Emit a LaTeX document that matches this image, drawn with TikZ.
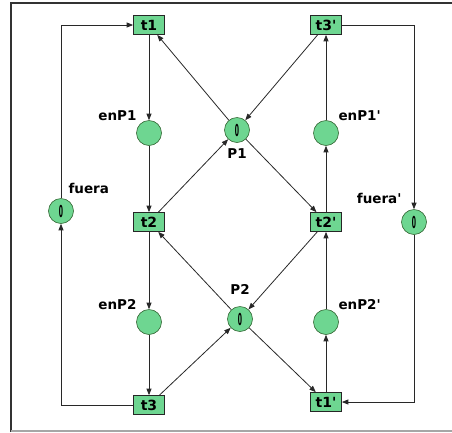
\documentclass[tikz,border=0pt]{standalone}
\usepackage{fontspec}
\setmainfont{DejaVu Sans}
\usetikzlibrary{arrows.meta,positioning}
\definecolor{placefill}{RGB}{110,214,145}
\definecolor{edge}{RGB}{40,40,40}
\newcommand{\tokzero}{\scalebox{0.55}[1.5]{\bfseries 0}}
\newcommand{\pr}{\textquotesingle}
\tikzset{
  place/.style={circle, draw=green!25!black!80, fill=placefill,
                minimum size=25pt, inner sep=0pt, line width=0.6pt,
                font=\fontsize{11}{13}\selectfont},
  trans/.style={rectangle, draw=black!85, fill=placefill,
                minimum width=31pt, minimum height=19pt, inner sep=1pt,
                line width=0.7pt, font=\bfseries\fontsize{14}{16}\selectfont},
  lbl/.style={font=\bfseries\fontsize{13.5}{15}\selectfont},
  arc/.style={-{Triangle[length=6.5pt,width=5pt]}, line width=0.8pt, color=edge},
}

\begin{document}
\begin{tikzpicture}[x=1pt, y=1pt, on grid]
    \useasboundingbox (0,0) rectangle (452,-432);
    \draw[line width=1.4pt, black!80] (11,-432) -- (11,-3) -- (452,-3);
    \draw[line width=1.1pt, black!35] (11,-431) -- (452,-431);

    \node[trans] (t1) at (149,-25) {t1};
    \node[place, below=108pt of t1, label={[lbl]above left:enP1}] (enP1) {};
    \node[trans, below=89pt of enP1] (t2) {t2};
    \node[place, below=100pt of t2, label={[lbl]above left:enP2}] (enP2) {};
    \node[trans, below=83pt of enP2] (t3) {t3};
    \node[trans, right=177pt of t1] (t3p) {t3\pr};
    \node[place, right=177pt of enP1, label={[lbl]above right:enP1\pr}] (enP1p) {};
    \node[trans, right=177pt of t2] (t2p) {t2\pr};
    \node[place, right=177pt of enP2, label={[lbl]above right:enP2\pr}] (enP2p) {};
    \node[trans, above right=3pt and 177pt of t3] (t1p) {t1\pr};
    \node[place, label={[lbl,label distance=2pt]below:P1}] (P1) at (237,-130) {\tokzero};
    \node[place, label={[lbl,label distance=8pt]above:P2}] (P2) at (240,-319) {\tokzero};
    \node[place, label={[lbl,xshift=-5pt,yshift=5pt]above right:fuera}] (fuera) at (61,-211) {\tokzero};
    \node[place, label={[lbl,yshift=6pt]above left:fuera\pr}] (fuerap) at (414,-222) {\tokzero};

    \draw[arc] (t1) -- (enP1);   \draw[arc] (enP1) -- (t2);
    \draw[arc] (t2) -- (enP2);   \draw[arc] (enP2) -- (t3);
    \draw[arc] (t3) -| (fuera);  \draw[arc] (fuera) |- (t1);
    \draw[arc] (P1) -- (t1);     \draw[arc] (t2) -- (P1);
    \draw[arc] (P1) -- (t2p);    \draw[arc] (t3p) -- (P1);
    \draw[arc] (t3p) -| (fuerap); \draw[arc] (fuerap) |- (t1p);
    \draw[arc] (t1p) -- (enP2p); \draw[arc] (enP2p) -- (t2p);
    \draw[arc] (t2p) -- (enP1p); \draw[arc] (enP1p) -- (t3p);
    \draw[arc] (t2p) -- (P2);    \draw[arc] (P2) -- (t2);
    \draw[arc] (t3) -- (P2);     \draw[arc] (P2) -- (t1p);
\end{tikzpicture}
\end{document}
